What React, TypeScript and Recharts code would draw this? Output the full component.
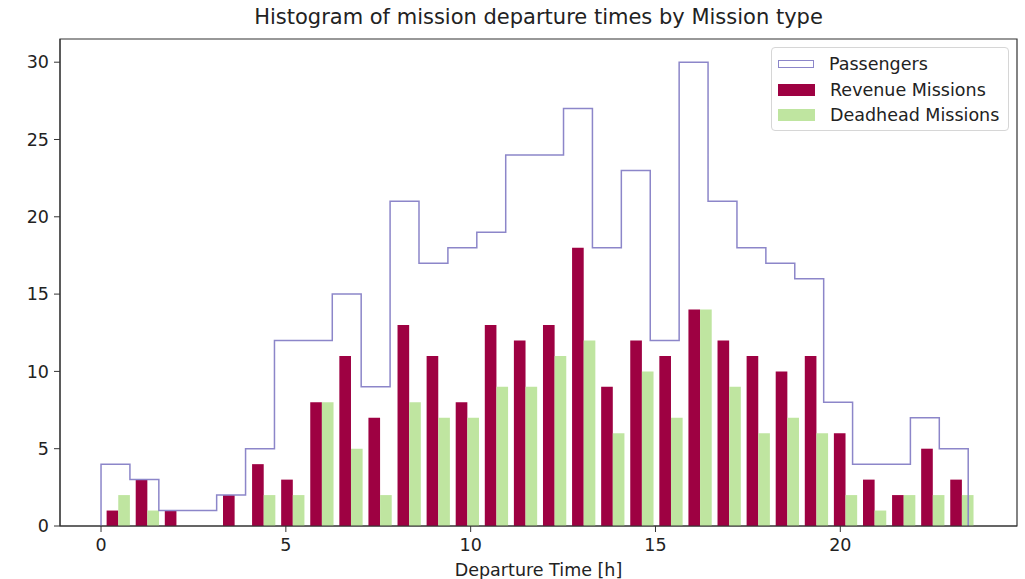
import React from 'react';
import {
  ComposedChart,
  Bar,
  Line,
  XAxis,
  YAxis,
  ReferenceArea,
} from 'recharts';

// counts per bin
const passengers = [4, 3, 1, 1, 2, 5, 12, 12, 15, 9, 21, 17, 18, 19, 24, 24, 27, 18, 23, 12, 30, 21, 18, 17, 16, 8, 4, 4, 7, 5];
const revenueMissions = [1, 3, 1, 0, 2, 4, 3, 8, 11, 7, 13, 11, 8, 13, 12, 13, 18, 9, 12, 11, 14, 12, 11, 10, 11, 6, 3, 2, 5, 3];
const deadheadMissions = [2, 1, 0, 0, 0, 2, 2, 8, 5, 2, 8, 7, 7, 9, 9, 11, 12, 6, 10, 7, 14, 9, 6, 7, 6, 2, 1, 2, 2, 2];

// bin ranges (hours)
const passRange = [0, 23.46];
const missionRange = [0.07, 23.68];

const xDomain = [-1.11, 24.78];
const yDomain = [0, 31.5];
const xTicks = [0, 5, 10, 15, 20];
const yTicks = [0, 5, 10, 15, 20, 25, 30];

const FONT = '"DejaVu Sans", sans-serif';
const RED = '#9e0142';
const GREEN = '#bfe5a0';
const PURPLE = '#8c86c9';
const AXIS = '#333';

const missionWidth = (missionRange[1] - missionRange[0]) / revenueMissions.length;
const missionData = revenueMissions.map((rev, i) => ({
  x: missionRange[0] + missionWidth * (i + 0.5),
  rev,
  dead: deadheadMissions[i],
}));

const passWidth = (passRange[1] - passRange[0]) / passengers.length;
const passData = [
  { x: passRange[0], pass: 0 },
  ...passengers.map((pass, i) => ({ x: passRange[0] + passWidth * i, pass })),
  { x: passRange[1], pass: passengers[passengers.length - 1] },
  { x: passRange[1], pass: 0 },
];

const legendItems = [
  { label: 'Passengers', kind: 'outline' },
  { label: 'Revenue Missions', kind: 'red' },
  { label: 'Deadhead Missions', kind: 'green' },
];

function LegendBox() {
  return (
    <div
      style={{
        position: 'absolute',
        left: 771,
        top: 47,
        width: 238,
        height: 84,
        border: '1px solid #d6d6d6',
        borderRadius: 4,
        background: 'rgba(255,255,255,0.8)',
        boxSizing: 'border-box',
        paddingTop: 3,
      }}
    >
      {legendItems.map((it) => (
        <div key={it.label} style={{ display: 'flex', alignItems: 'center', height: 25.7 }}>
          <div style={{ width: 6 }} />
          {it.kind === 'outline' ? (
            <div style={{ width: 34, height: 6, border: `1.5px solid ${PURPLE}`, background: '#fff' }} />
          ) : (
            <div style={{ width: 37, height: 12, background: it.kind === 'red' ? RED : GREEN }} />
          )}
          <span style={{ marginLeft: 15, fontFamily: FONT, fontSize: 17.5, color: '#222', whiteSpace: 'nowrap' }}>
            {it.label}
          </span>
        </div>
      ))}
    </div>
  );
}

export default function App() {
  return (
    <div style={{ position: 'absolute', left: 0, top: 0, width: 1025, height: 579, background: '#fff' }}>
      <div
        style={{
          position: 'absolute',
          left: 60,
          width: 957,
          top: 5,
          textAlign: 'center',
          fontFamily: FONT,
          fontSize: 21,
          color: '#222',
        }}
      >
        Histogram of mission departure times by Mission type
      </div>
      <ComposedChart
        width={1025}
        height={579}
        data={missionData}
        margin={{ top: 39, right: 8, bottom: 0, left: 0 }}
        barGap={0}
      >
        <XAxis
          dataKey="x"
          type="number"
          domain={xDomain}
          ticks={xTicks}
          allowDataOverflow
          height={53}
          stroke={AXIS}
          tickSize={6}
          tickMargin={7}
          tick={{ fill: '#222', fontSize: 17.5, fontFamily: FONT }}
          label={{
            value: 'Departure Time [h]',
            position: 'insideBottom',
            offset: 3,
            fill: '#222',
            fontSize: 17.5,
            fontFamily: FONT,
          }}
        />
        <XAxis xAxisId="pass" dataKey="x" type="number" domain={xDomain} allowDataOverflow hide />
        <YAxis
          type="number"
          domain={yDomain}
          ticks={yTicks}
          width={60}
          stroke={AXIS}
          tickSize={6}
          tickMargin={5}
          tick={{ fill: '#222', fontSize: 17.5, fontFamily: FONT }}
        />
        <ReferenceArea
          x1={xDomain[0]}
          x2={xDomain[1]}
          y1={yDomain[0]}
          y2={yDomain[1]}
          fill="none"
          stroke={AXIS}
          strokeWidth={1.2}
          ifOverflow="visible"
        />
        <Bar dataKey="rev" name="Revenue Missions" fill={RED} barSize={11.64} isAnimationActive={false} />
        <Bar dataKey="dead" name="Deadhead Missions" fill={GREEN} barSize={11.64} isAnimationActive={false} />
        <Line
          xAxisId="pass"
          data={passData}
          dataKey="pass"
          name="Passengers"
          type="stepAfter"
          stroke={PURPLE}
          strokeWidth={1.5}
          dot={false}
          activeDot={false}
          isAnimationActive={false}
        />
      </ComposedChart>
      <LegendBox />
    </div>
  );
}
